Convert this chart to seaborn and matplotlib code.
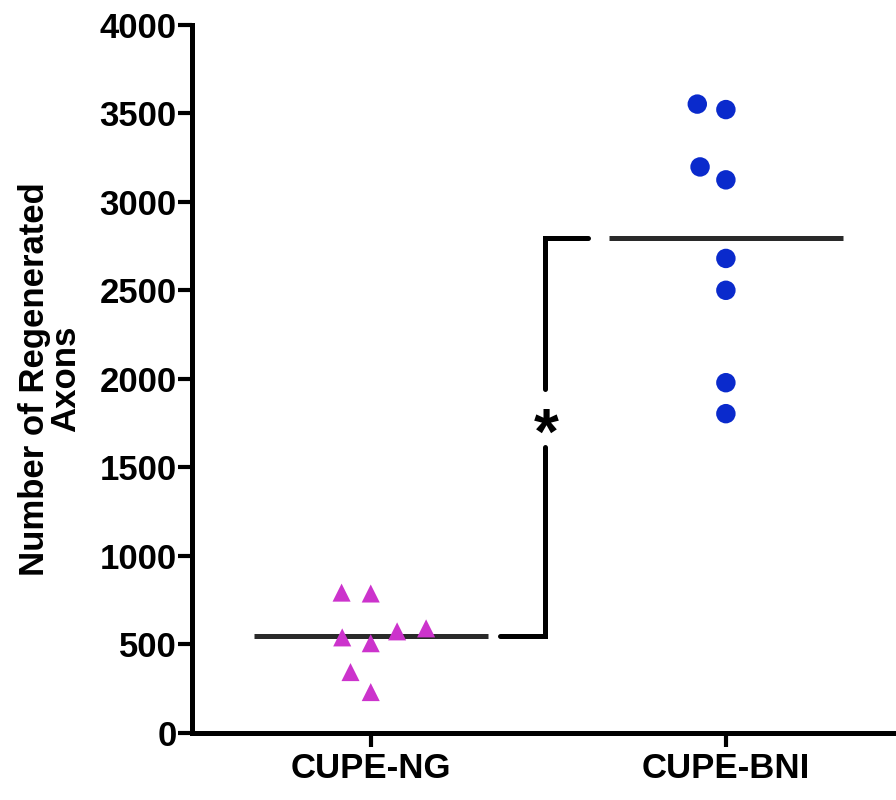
import numpy as np
import pandas as pd
import matplotlib
matplotlib.use("Agg")
import matplotlib.pyplot as plt
import seaborn as sns

# values
groups = ["CUPE-NG", "CUPE-BNI"]
ng_axons = [787, 792, 590, 539, 506, 573, 343, 230]
bni_axons = [3552, 3521, 3197, 3124, 2680, 2500, 1978, 1803]
y_ticks = [0, 500, 1000, 1500, 2000, 2500, 3000, 3500, 4000]
star_y = 1780

pink = "#CC33CC"
blue = "#0A2ACC"

df = pd.DataFrame({
    "group": ["CUPE-NG"] * len(ng_axons) + ["CUPE-BNI"] * len(bni_axons),
    "axons": ng_axons + bni_axons,
})

sns.set_style("ticks")
plt.rcParams["font.family"] = ["Liberation Sans", "DejaVu Sans"]
plt.rcParams["font.weight"] = "bold"
for k in ["text.color", "axes.labelcolor", "xtick.color", "ytick.color", "axes.edgecolor"]:
    plt.rcParams[k] = "black"

fig = plt.figure(figsize=(8.96, 8.0), dpi=100)
ax = fig.add_axes([0.214, 0.084, 0.786, 0.885])

# linewidth with no edge colour only widens the swarm spacing
sns.swarmplot(data=df[df.group == "CUPE-NG"], x="group", y="axons", order=groups,
              color=pink, marker="^", size=13, linewidth=7, edgecolor="none", ax=ax)
sns.swarmplot(data=df[df.group == "CUPE-BNI"], x="group", y="axons", order=groups,
              color=blue, marker="o", size=14, linewidth=6, edgecolor="none", ax=ax)

# mean lines
means = df.groupby("group")["axons"].mean().reindex(groups)
xs = np.arange(len(groups))
ax.hlines(means.values, xs - 0.33, xs + 0.33, color="#2a2a2a", lw=3.6, zorder=1)

# significance bracket
m_ng, m_bni = means.values
bx = 0.49
ax.plot([0.363, bx, bx], [m_ng, m_ng, star_y - 165], color="black", lw=3.6,
        solid_joinstyle="miter")
ax.plot([bx, bx, 0.611], [star_y + 165, m_bni, m_bni], color="black", lw=3.6,
        solid_joinstyle="miter")
ax.annotate("*", (bx, star_y), xytext=(1, -14), textcoords="offset points",
            ha="center", va="center", fontsize=46, fontweight="bold")

ax.set_xlim(-0.504, 1.479)
ax.set_ylim(0, 4000)
ax.set_yticks(y_ticks)
ax.set_xlabel("")
ax.set_ylabel("Number of Regenerated\nAxons", fontsize=25, fontweight="bold",
              linespacing=0.95)
ax.yaxis.set_label_coords(-0.155, 0.5)

sns.despine(ax=ax, top=True, right=True)
for s in ["left", "bottom"]:
    ax.spines[s].set_linewidth(3.6)
ax.tick_params(axis="both", labelsize=25, width=3, length=10, color="black")
ax.tick_params(axis="y", pad=1)
ax.tick_params(axis="x", pad=4)
for lab in ax.get_xticklabels() + ax.get_yticklabels():
    lab.set_fontweight("bold")

fig.savefig("out.png", dpi=100)
